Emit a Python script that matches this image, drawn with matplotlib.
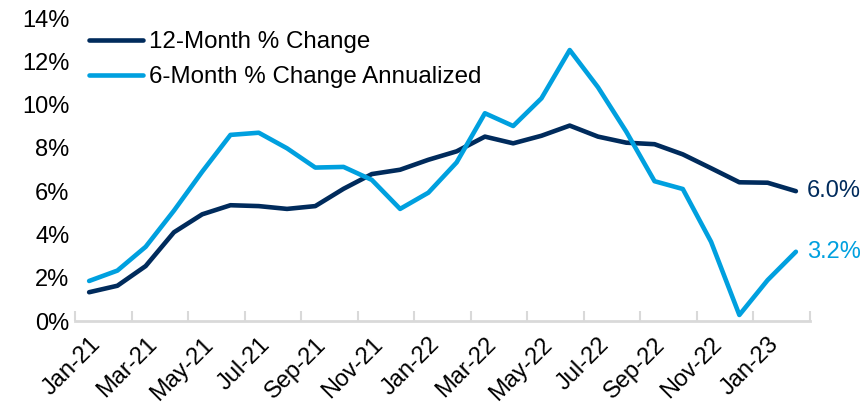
import matplotlib.pyplot as plt
from matplotlib.ticker import FuncFormatter, FixedLocator
import numpy as np

plt.rcParams['font.family'] = ['Liberation Sans', 'DejaVu Sans']

months = ['Jan-21', 'Feb-21', 'Mar-21', 'Apr-21', 'May-21', 'Jun-21', 'Jul-21',
          'Aug-21', 'Sep-21', 'Oct-21', 'Nov-21', 'Dec-21', 'Jan-22', 'Feb-22',
          'Mar-22', 'Apr-22', 'May-22', 'Jun-22', 'Jul-22', 'Aug-22', 'Sep-22',
          'Oct-22', 'Nov-22', 'Dec-22', 'Jan-23', 'Feb-23']

# 12-month % change
chg_12m = [1.33, 1.63, 2.54, 4.10, 4.93, 5.35, 5.31, 5.18, 5.31, 6.11, 6.79,
           6.99, 7.45, 7.84, 8.52, 8.21, 8.56, 9.03, 8.52, 8.24, 8.17, 7.70,
           7.06, 6.41, 6.39, 6.0]
# 6-month % change annualized
chg_6m = [1.85, 2.33, 3.43, 5.10, 6.90, 8.60, 8.70, 7.98, 7.09, 7.12, 6.52,
          5.18, 5.93, 7.33, 9.60, 9.01, 10.29, 12.52, 10.80, 8.75, 6.46, 6.10,
          3.66, 0.28, 1.89, 3.2]

navy = '#002B5C'
blue = '#00A0DF'

fig = plt.figure(figsize=(8.62, 4.04), dpi=100)
ax = fig.add_axes([0.087, 0.2054, 0.8527, 0.75])

x = np.arange(len(months))
ax.plot(x, chg_12m, color=navy, lw=3.3, solid_capstyle='round', label='12-Month % Change')
ax.plot(x, chg_6m, color=blue, lw=3.3, solid_capstyle='round', label='6-Month % Change Annualized')

ax.set_xlim(-0.5, len(months) - 0.5)
ax.set_ylim(0, 14)
ax.set_yticks(np.arange(0, 15, 2))
ax.yaxis.set_major_formatter(FuncFormatter(lambda v, p: f'{v:.0f}%'))
ax.tick_params(axis='y', length=0, labelsize=17, pad=4)

# tick marks between categories, labels on every other category
ax.xaxis.set_major_locator(FixedLocator(np.arange(-0.5, len(months), 2)))
ax.xaxis.set_major_formatter(FuncFormatter(lambda v, p: ''))
ax.set_xticks(x[::2], minor=True)
ax.set_xticklabels(months[::2], minor=True, rotation=45, ha='right',
                   va='top', rotation_mode='anchor', fontsize=17)
ax.tick_params(axis='x', which='major', direction='in', length=7,
               color='#D9D9D9', width=1.5)
ax.tick_params(axis='x', which='minor', length=0, pad=9)

for s in ['top', 'right', 'left']:
    ax.spines[s].set_visible(False)
ax.spines['bottom'].set_color('#D9D9D9')
ax.spines['bottom'].set_linewidth(2)

ax.annotate(f'{chg_12m[-1]:.1f}%', (x[-1], chg_12m[-1]), xytext=(8, 0),
            textcoords='offset points', va='center', ha='left',
            fontsize=17, color=navy, annotation_clip=False)
ax.annotate(f'{chg_6m[-1]:.1f}%', (x[-1], chg_6m[-1]), xytext=(8, 0),
            textcoords='offset points', va='center', ha='left',
            fontsize=17, color=blue, annotation_clip=False)

ax.legend(loc='upper left', bbox_to_anchor=(-0.001, 1.005), frameon=False,
          fontsize=17.4, handlelength=2.25, handletextpad=0.25,
          labelspacing=0.55, borderaxespad=0.2)

fig.savefig('out.png', dpi=100)
